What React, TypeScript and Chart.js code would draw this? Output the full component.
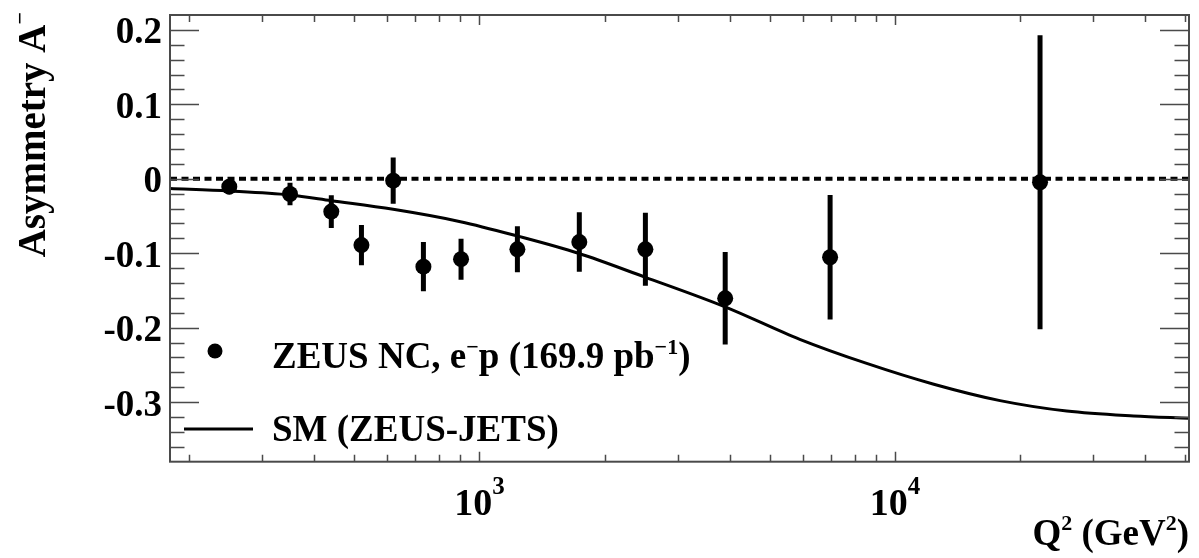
import React, { useEffect, useRef } from "react";
import { Chart, registerables } from "chart.js";

Chart.register(...registerables);

// ---- Data ----
const q2Values = [250, 350, 440, 520, 620, 733, 903, 1234, 1739, 2508, 3903, 6980, 22340];
const asymValues = [-0.0106, -0.0204, -0.044, -0.089, -0.0025, -0.118, -0.108, -0.0947, -0.085, -0.0947, -0.1605, -0.1054, -0.0047];
const asymErrors = [0.01, 0.015, 0.022, 0.027, 0.031, 0.033, 0.0275, 0.031, 0.04, 0.049, 0.062, 0.0835, 0.1975];

const smQ2 = [180, 250, 350, 440, 620, 900, 1225, 1730, 2500, 3900, 5900, 8550, 12400, 17900, 25900, 37500, 51000];
const smAsym = [-0.013, -0.0164, -0.0218, -0.0294, -0.041, -0.0576, -0.0764, -0.1, -0.132, -0.172, -0.2156, -0.248, -0.276, -0.298, -0.312, -0.3186, -0.3217];

const zeroLineQ2 = [180, 51000];
const zeroLineAsym = [0, 0];

const X_MIN = 180;
const X_MAX = 51000;
const Y_MIN = -0.38;
const Y_MAX = 0.22;

const yMajorTicks = [-0.3, -0.2, -0.1, 0, 0.1, 0.2];
const yTickLabels = ["-0.3", "-0.2", "-0.1", "0", "0.1", "0.2"];
const yMinorTicks = [-0.36, -0.34, -0.32, -0.28, -0.26, -0.24, -0.22, -0.18, -0.16, -0.14, -0.12, -0.08, -0.06, -0.04, -0.02, 0.02, 0.04, 0.06, 0.08, 0.12, 0.14, 0.16, 0.18];
const xMajorTicks = [1000, 10000];
const xTickBase = ["10", "10"];
const xTickExp = ["3", "4"];
const xMinorTicks = [200, 300, 400, 500, 600, 700, 800, 900, 2000, 3000, 4000, 5000, 6000, 7000, 8000, 9000, 20000, 30000, 40000, 50000];

const legendData = "ZEUS NC, e";
const legendModel = "SM (ZEUS-JETS)";
const yTitle = "Asymmetry A";
const xTitle = "Q";

const FONT = '"Liberation Serif", "Times New Roman", serif';

type Seg = { t: string; sup?: boolean };

function segWidth(ctx: CanvasRenderingContext2D, segs: Seg[], size: number, supSize: number) {
  let w = 0;
  for (const s of segs) {
    ctx.font = `bold ${s.sup ? supSize : size}px ${FONT}`;
    w += ctx.measureText(s.t).width;
  }
  return w;
}

function drawSegs(ctx: CanvasRenderingContext2D, segs: Seg[], x: number, y: number, size: number, supSize: number, rise: number) {
  let cx = x;
  ctx.textAlign = "left";
  ctx.textBaseline = "alphabetic";
  for (const s of segs) {
    ctx.font = `bold ${s.sup ? supSize : size}px ${FONT}`;
    ctx.fillText(s.t, cx, s.sup ? y - rise : y);
    cx += ctx.measureText(s.t).width;
  }
  return cx;
}

const rootFrame = {
  id: "rootFrame",
  afterDraw(chart: any) {
    const { ctx, chartArea } = chart;
    const { left, right, top, bottom } = chartArea;
    const xs = chart.scales.x;
    const ys = chart.scales.y;
    ctx.save();
    // frame
    ctx.strokeStyle = "#4a4a4a";
    ctx.lineWidth = 2;
    ctx.strokeRect(left, top, right - left, bottom - top);
    ctx.beginPath();
    for (const v of yMajorTicks) {
      const py = Math.round(ys.getPixelForValue(v)) + 0.5;
      ctx.moveTo(left, py); ctx.lineTo(left + 29, py);
      ctx.moveTo(right, py); ctx.lineTo(right - 29, py);
    }
    for (const v of yMinorTicks) {
      const py = Math.round(ys.getPixelForValue(v)) + 0.5;
      ctx.moveTo(left, py); ctx.lineTo(left + 14.5, py);
      ctx.moveTo(right, py); ctx.lineTo(right - 14.5, py);
    }
    for (const v of xMajorTicks) {
      const px = Math.round(xs.getPixelForValue(v)) + 0.5;
      ctx.moveTo(px, bottom); ctx.lineTo(px, bottom - 10);
      ctx.moveTo(px, top); ctx.lineTo(px, top + 10);
    }
    for (const v of xMinorTicks) {
      const px = Math.round(xs.getPixelForValue(v)) + 0.5;
      ctx.moveTo(px, bottom); ctx.lineTo(px, bottom - 7);
      ctx.moveTo(px, top); ctx.lineTo(px, top + 7);
    }
    ctx.lineWidth = 1.5;
    ctx.stroke();

    ctx.fillStyle = "#000";
    // y tick labels
    ctx.font = `bold 37px ${FONT}`;
    ctx.textAlign = "right";
    ctx.textBaseline = "alphabetic";
    yMajorTicks.forEach((v, i) => {
      const py = ys.getPixelForValue(v);
      ctx.fillText(yTickLabels[i], left - 8, py + 13.5);
    });
    // x tick labels
    xMajorTicks.forEach((v, i) => {
      const px = xs.getPixelForValue(v);
      const segs: Seg[] = [{ t: xTickBase[i] }, { t: xTickExp[i], sup: true }];
      const w = segWidth(ctx, segs, 38, 25);
      drawSegs(ctx, segs, px - w / 2, 515, 38, 25, 21);
    });
    // x title
    {
      const segs: Seg[] = [{ t: xTitle }, { t: "2", sup: true }, { t: " (GeV" }, { t: "2", sup: true }, { t: ")" }];
      const w = segWidth(ctx, segs, 37, 22);
      drawSegs(ctx, segs, 1189 - w, 545, 37, 22, 15);
    }
    // y title (rotated)
    {
      ctx.save();
      ctx.translate(45, 12);
      ctx.rotate(-Math.PI / 2);
      const segs: Seg[] = [{ t: yTitle }, { t: "\u2212", sup: true }];
      const w = segWidth(ctx, segs, 39, 22);
      drawSegs(ctx, segs, -w, 0, 39, 22, 18);
      ctx.restore();
    }
    // legend
    ctx.fillStyle = "#000";
    ctx.beginPath();
    ctx.arc(215, 351, 7.5, 0, Math.PI * 2);
    ctx.fill();
    drawSegs(ctx, [{ t: legendData }, { t: "\u2212", sup: true }, { t: "p (169.9 pb" }, { t: "\u22121", sup: true }, { t: ")" }], 272, 368, 37, 22, 14);
    ctx.strokeStyle = "#000";
    ctx.lineWidth = 3;
    ctx.beginPath();
    ctx.moveTo(184, 429);
    ctx.lineTo(253, 429);
    ctx.stroke();
    drawSegs(ctx, [{ t: legendModel }], 272, 440.5, 37, 22, 14);
    ctx.restore();
  },
};

export default function App() {
  const canvasRef = useRef<HTMLCanvasElement | null>(null);

  useEffect(() => {
    const canvas = canvasRef.current;
    if (!canvas) return;
    const errData: any[] = [];
    q2Values.forEach((q, i) => {
      errData.push({ x: q, y: asymValues[i] - asymErrors[i] });
      errData.push({ x: q, y: asymValues[i] + asymErrors[i] });
      errData.push({ x: q, y: null });
    });
    const chart = new Chart(canvas, {
      type: "scatter",
      data: {
        datasets: [
          {
            label: "zero",
            data: zeroLineQ2.map((q, i) => ({ x: q, y: zeroLineAsym[i] })),
            showLine: true,
            borderColor: "#000",
            borderWidth: 4,
            borderDash: [7, 4.5],
            pointRadius: 0,
            order: 4,
          },
          {
            label: "SM (ZEUS-JETS)",
            data: smQ2.map((q, i) => ({ x: q, y: smAsym[i] })),
            showLine: true,
            borderColor: "#000",
            borderWidth: 3,
            cubicInterpolationMode: "monotone",
            pointRadius: 0,
            order: 3,
          },
          {
            label: "errors",
            data: errData,
            showLine: true,
            spanGaps: false,
            borderColor: "#000",
            borderWidth: 5,
            pointRadius: 0,
            order: 2,
          },
          {
            label: "ZEUS NC",
            data: q2Values.map((q, i) => ({ x: q, y: asymValues[i] })),
            showLine: false,
            backgroundColor: "#000",
            borderColor: "#000",
            pointRadius: 8,
            pointBorderWidth: 0,
            order: 1,
          },
        ],
      } as any,
      options: {
        responsive: false,
        animation: false,
        devicePixelRatio: 1,
        layout: { padding: { left: 170, right: 10, top: 15, bottom: 96.3 } },
        plugins: { legend: { display: false }, tooltip: { enabled: false } },
        scales: {
          x: { type: "logarithmic", min: X_MIN, max: X_MAX, display: false },
          y: { type: "linear", min: Y_MIN, max: Y_MAX, display: false },
        },
      } as any,
      plugins: [rootFrame],
    });
    return () => chart.destroy();
  }, []);

  return (
    <div style={{ position: "absolute", left: 0, top: 0, width: 1199, height: 558, background: "#fff" }}>
      <canvas ref={canvasRef} width={1199} height={558} />
    </div>
  );
}
